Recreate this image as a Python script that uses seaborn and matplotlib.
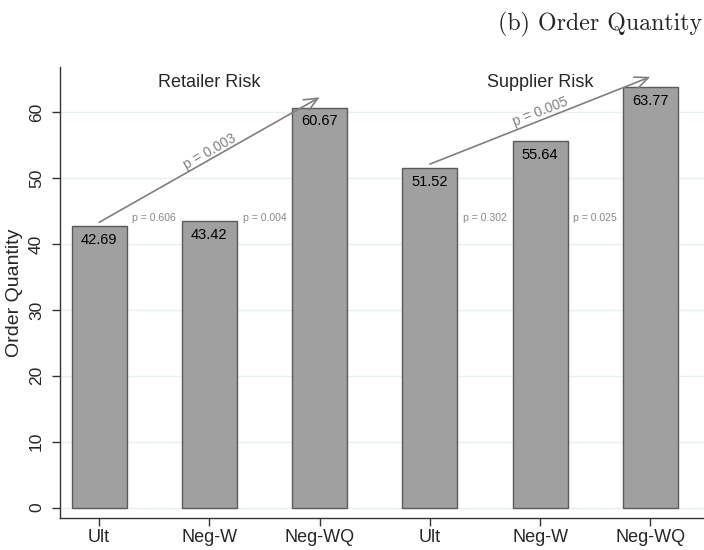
import math
import matplotlib
matplotlib.use("Agg")
import matplotlib.pyplot as plt
import seaborn as sns
import pandas as pd

# Order quantity per contract type, two risk settings
groups = ["Retailer Risk", "Supplier Risk"]
contracts = ["Ult", "Neg-W", "Neg-WQ"]
retailer_qty = [42.69, 43.42, 60.67]
supplier_qty = [51.52, 55.64, 63.77]

# pairwise p-values between neighbouring contracts, and first-vs-last
retailer_pair_p = ["p = 0.606", "p = 0.004"]
supplier_pair_p = ["p = 0.302", "p = 0.025"]
retailer_span_p = "p = 0.003"
supplier_span_p = "p = 0.005"

yticks = [0, 10, 20, 30, 40, 50, 60]

slots = [f"{g}|{c}" for g in groups for c in contracts]
df = pd.DataFrame({
    "slot": slots,
    "qty": retailer_qty + supplier_qty,
})

sns.set_theme(style="white")
plt.rcParams["font.family"] = ["Liberation Sans", "DejaVu Sans"]

fig = plt.figure(figsize=(7.04, 5.5), dpi=100)
ax = fig.add_axes([0.0852, 0.058, 0.92, 0.82])

sns.barplot(data=df, x="slot", y="qty", order=slots, width=0.5,
            color="#a0a0a0", saturation=1, edgecolor="#5a5a5a",
            linewidth=1.0, ax=ax, zorder=2)

ax.set_xlim(-0.355, 5.52)
ax.set_ylim(-1.6, 66.85)
ax.set_yticks(yticks)
ax.set_yticklabels([str(t) for t in yticks], rotation=90, va="center",
                   fontsize=12.5)
ax.set_xticks(range(len(slots)))
ax.set_xticklabels(contracts * 2, fontsize=13)
ax.set_xlabel("")
ax.set_ylabel("Order Quantity", fontsize=14, labelpad=4)

ax.grid(axis="y", color="#e8eff1", linewidth=1.0, zorder=0)
ax.set_axisbelow(True)
for side in ["top", "right"]:
    ax.spines[side].set_visible(False)
for side in ["left", "bottom"]:
    ax.spines[side].set_color("#333333")
    ax.spines[side].set_linewidth(1.0)
ax.tick_params(axis="both", which="both", direction="out", length=5.5,
               width=1, color="#333333", left=True, bottom=True)
ax.tick_params(axis="y", pad=6)
ax.tick_params(axis="x", pad=2)

# value labels just inside the top of each bar
values = retailer_qty + supplier_qty
for i, v in enumerate(values):
    ax.text(i, v - 1.0, f"{v:.2f}", ha="center", va="top", fontsize=10.5,
            color="black", zorder=4)

# group headings
ax.text(1, 64.5, groups[0], ha="center", va="center", fontsize=13)
ax.text(4, 64.5, groups[1], ha="center", va="center", fontsize=13)

# neighbouring-pair p-values
pair_labels = retailer_pair_p + [None] + supplier_pair_p
pair_pos = [0.5, 1.5, None, 3.5, 4.5]
for pos, lab in zip(pair_pos, pair_labels):
    if lab is None:
        continue
    ax.text(pos, 43.9, lab, ha="center", va="center", fontsize=7.6,
            color="#888888")

# first-to-last arrows with their p-values
arrow_color = "#7f7f7f"
spans = [
    (0, retailer_qty[0], 2, retailer_qty[2], retailer_span_p),
    (3, supplier_qty[0], 5, supplier_qty[2], supplier_span_p),
]
for x0, v0, x1, v1, lab in spans:
    y0, y1 = v0 + 0.6, v1 + 1.6
    ax.annotate("", xy=(x1, y1), xytext=(x0, y0),
                arrowprops=dict(arrowstyle="->,head_length=0.8,head_width=0.35",
                                color=arrow_color, lw=1.2,
                                shrinkA=0, shrinkB=0), zorder=5)
    p0 = ax.transData.transform((x0, y0))
    p1 = ax.transData.transform((x1, y1))
    ang = math.degrees(math.atan2(p1[1] - p0[1], p1[0] - p0[0]))
    xm, ym = (x0 + x1) / 2, (y0 + y1) / 2
    ax.annotate(lab, xy=(xm, ym), xytext=(0, 6), textcoords="offset points",
                ha="center", va="center", rotation=ang,
                rotation_mode="anchor", fontsize=10, color="#808080")

fig.text(0.997, 0.956, "(b) Order Quantity", ha="right", va="center",
         fontsize=17.2, family="cmr10")

fig.savefig("out.png", dpi=100)
